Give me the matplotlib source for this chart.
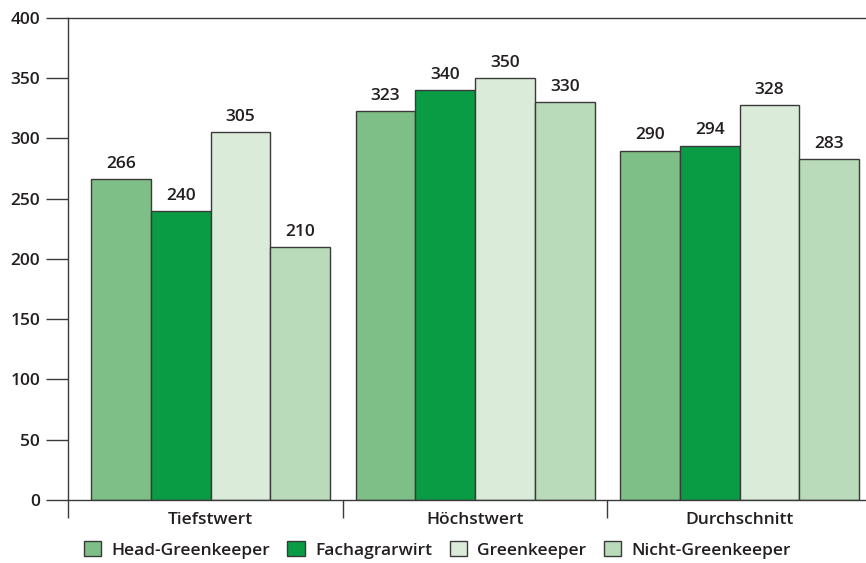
import numpy as np
from matplotlib import pyplot as plt

plt.rcParams['font.family'] = ['Open Sans', 'DejaVu Sans']
plt.rcParams['font.weight'] = 'semibold'

# mean values per group (label values)
groups = ['Tiefstwert', 'Höchstwert', 'Durchschnitt']
series = ['Head-Greenkeeper', 'Fachagrarwirt', 'Greenkeeper', 'Nicht-Greenkeeper']
head_gk = [266, 323, 290]
fachagrar = [240, 340, 294]
greenkeeper = [305, 350, 328]
nicht_gk = [210, 330, 283]
colors = ['#7dbf87', '#0a9c45', '#dbebd9', '#badbba']

text_col = '#231f20'
edge_col = '#3a3a3a'
fs = 12.5

fig = plt.figure(figsize=(8.66, 5.63), dpi=100)
ax = fig.add_axes([0.0785, 0.112, 0.9215, 0.856])

x = np.arange(len(groups))
w = 0.226
for i, vals in enumerate([head_gk, fachagrar, greenkeeper, nicht_gk]):
    pos = x + (i - 1.5) * w
    ax.bar(pos, vals, width=w, color=colors[i], edgecolor=edge_col,
           linewidth=1.0, label=series[i], zorder=2)
    for p, v in zip(pos, vals):
        ax.text(p, v + 6, str(v), ha='center', va='bottom', fontsize=fs,
                color=text_col)

ax.set_xlim(-0.539, 2.478)
ax.set_ylim(0, 400)
ax.set_yticks(np.arange(0, 401, 50))
ax.tick_params(axis='y', length=16, width=1, color=edge_col, pad=4,
               labelsize=fs, labelcolor=text_col)

# group separators as ticks below the axis
ax.set_xticks([-0.539, 0.5, 1.5])
ax.set_xticklabels(['', '', ''])
ax.tick_params(axis='x', length=13, width=1, color=edge_col)
for xi, g in zip(x, groups):
    ax.text(xi, -10, g, ha='center', va='top', fontsize=fs, color=text_col,
            transform=ax.transData, clip_on=False)

for s in ['left', 'bottom', 'top']:
    ax.spines[s].set_color(edge_col)
    ax.spines[s].set_linewidth(1)
ax.spines['right'].set_visible(False)

fig.legend(loc='lower center', ncol=4, frameon=False, fontsize=fs,
           handlelength=1.0, handleheight=1.0, handletextpad=0.6,
           columnspacing=1.0, bbox_to_anchor=(0.505, -0.02),
           labelcolor=text_col)

fig.savefig('out.png', dpi=100)
